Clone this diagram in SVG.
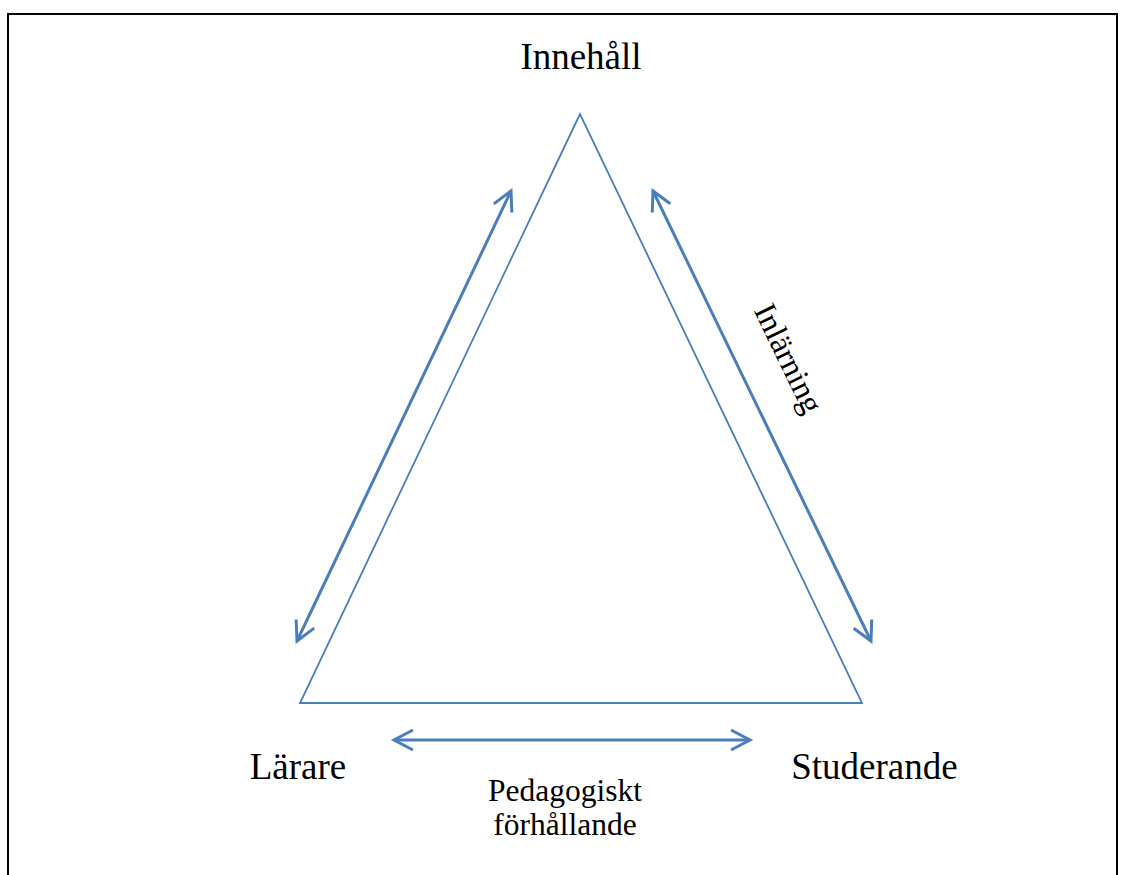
<svg xmlns="http://www.w3.org/2000/svg" width="1124" height="875" viewBox="0 0 1124 875">
<style>
.t{font-family:"Liberation Serif","Times New Roman",serif;fill:#000}
.tri{fill:none;stroke:#4a7ebb;stroke-width:1.8;stroke-linejoin:miter}
.arr{fill:none;stroke:#4a7ebb;stroke-width:3}
</style>
<defs>
<marker id="head" markerWidth="12" markerHeight="14" refX="9" refY="7" orient="auto-start-reverse" markerUnits="userSpaceOnUse" viewBox="0 0 12 14" overflow="visible">
<path d="M-10,-3 L9,7 L-10,17" fill="none" stroke="#4a7ebb" stroke-width="3" stroke-linejoin="miter"/>
</marker>
</defs>
<rect width="1124" height="875" fill="#fff"/>
<path d="M8,876 V14 H1117 V876" fill="none" stroke="#000" stroke-width="2"/>
<g id="triangle">
<path class="tri" d="M580,114 L300,703 L862,703 Z"/>
</g>
<g id="connectors">
<line class="arr" x1="297" y1="641" x2="511" y2="191" marker-start="url(#head)" marker-end="url(#head)"/>
<line class="arr" x1="653" y1="191" x2="871" y2="641" marker-start="url(#head)" marker-end="url(#head)"/>
<line class="arr" x1="394" y1="740" x2="750" y2="740" marker-start="url(#head)" marker-end="url(#head)"/>
</g>
<g id="node-innehall"><text class="t" x="581" y="69" font-size="37" text-anchor="middle">Innehåll</text></g>
<g id="node-larare"><text class="t" x="298" y="779" font-size="37" text-anchor="middle">Lärare</text></g>
<g id="node-studerande"><text class="t" x="874.5" y="779" font-size="37" text-anchor="middle">Studerande</text></g>
<g id="label-pedagogiskt">
<text class="t" x="565" y="801" font-size="31.5" text-anchor="middle">Pedagogiskt</text>
<text class="t" x="565" y="835" font-size="31.5" text-anchor="middle">förhållande</text>
</g>
<g id="label-inlarning">
<text class="t" font-size="32" text-anchor="middle" transform="translate(779,363) rotate(64.1)">Inlärning</text>
</g>
</svg>
